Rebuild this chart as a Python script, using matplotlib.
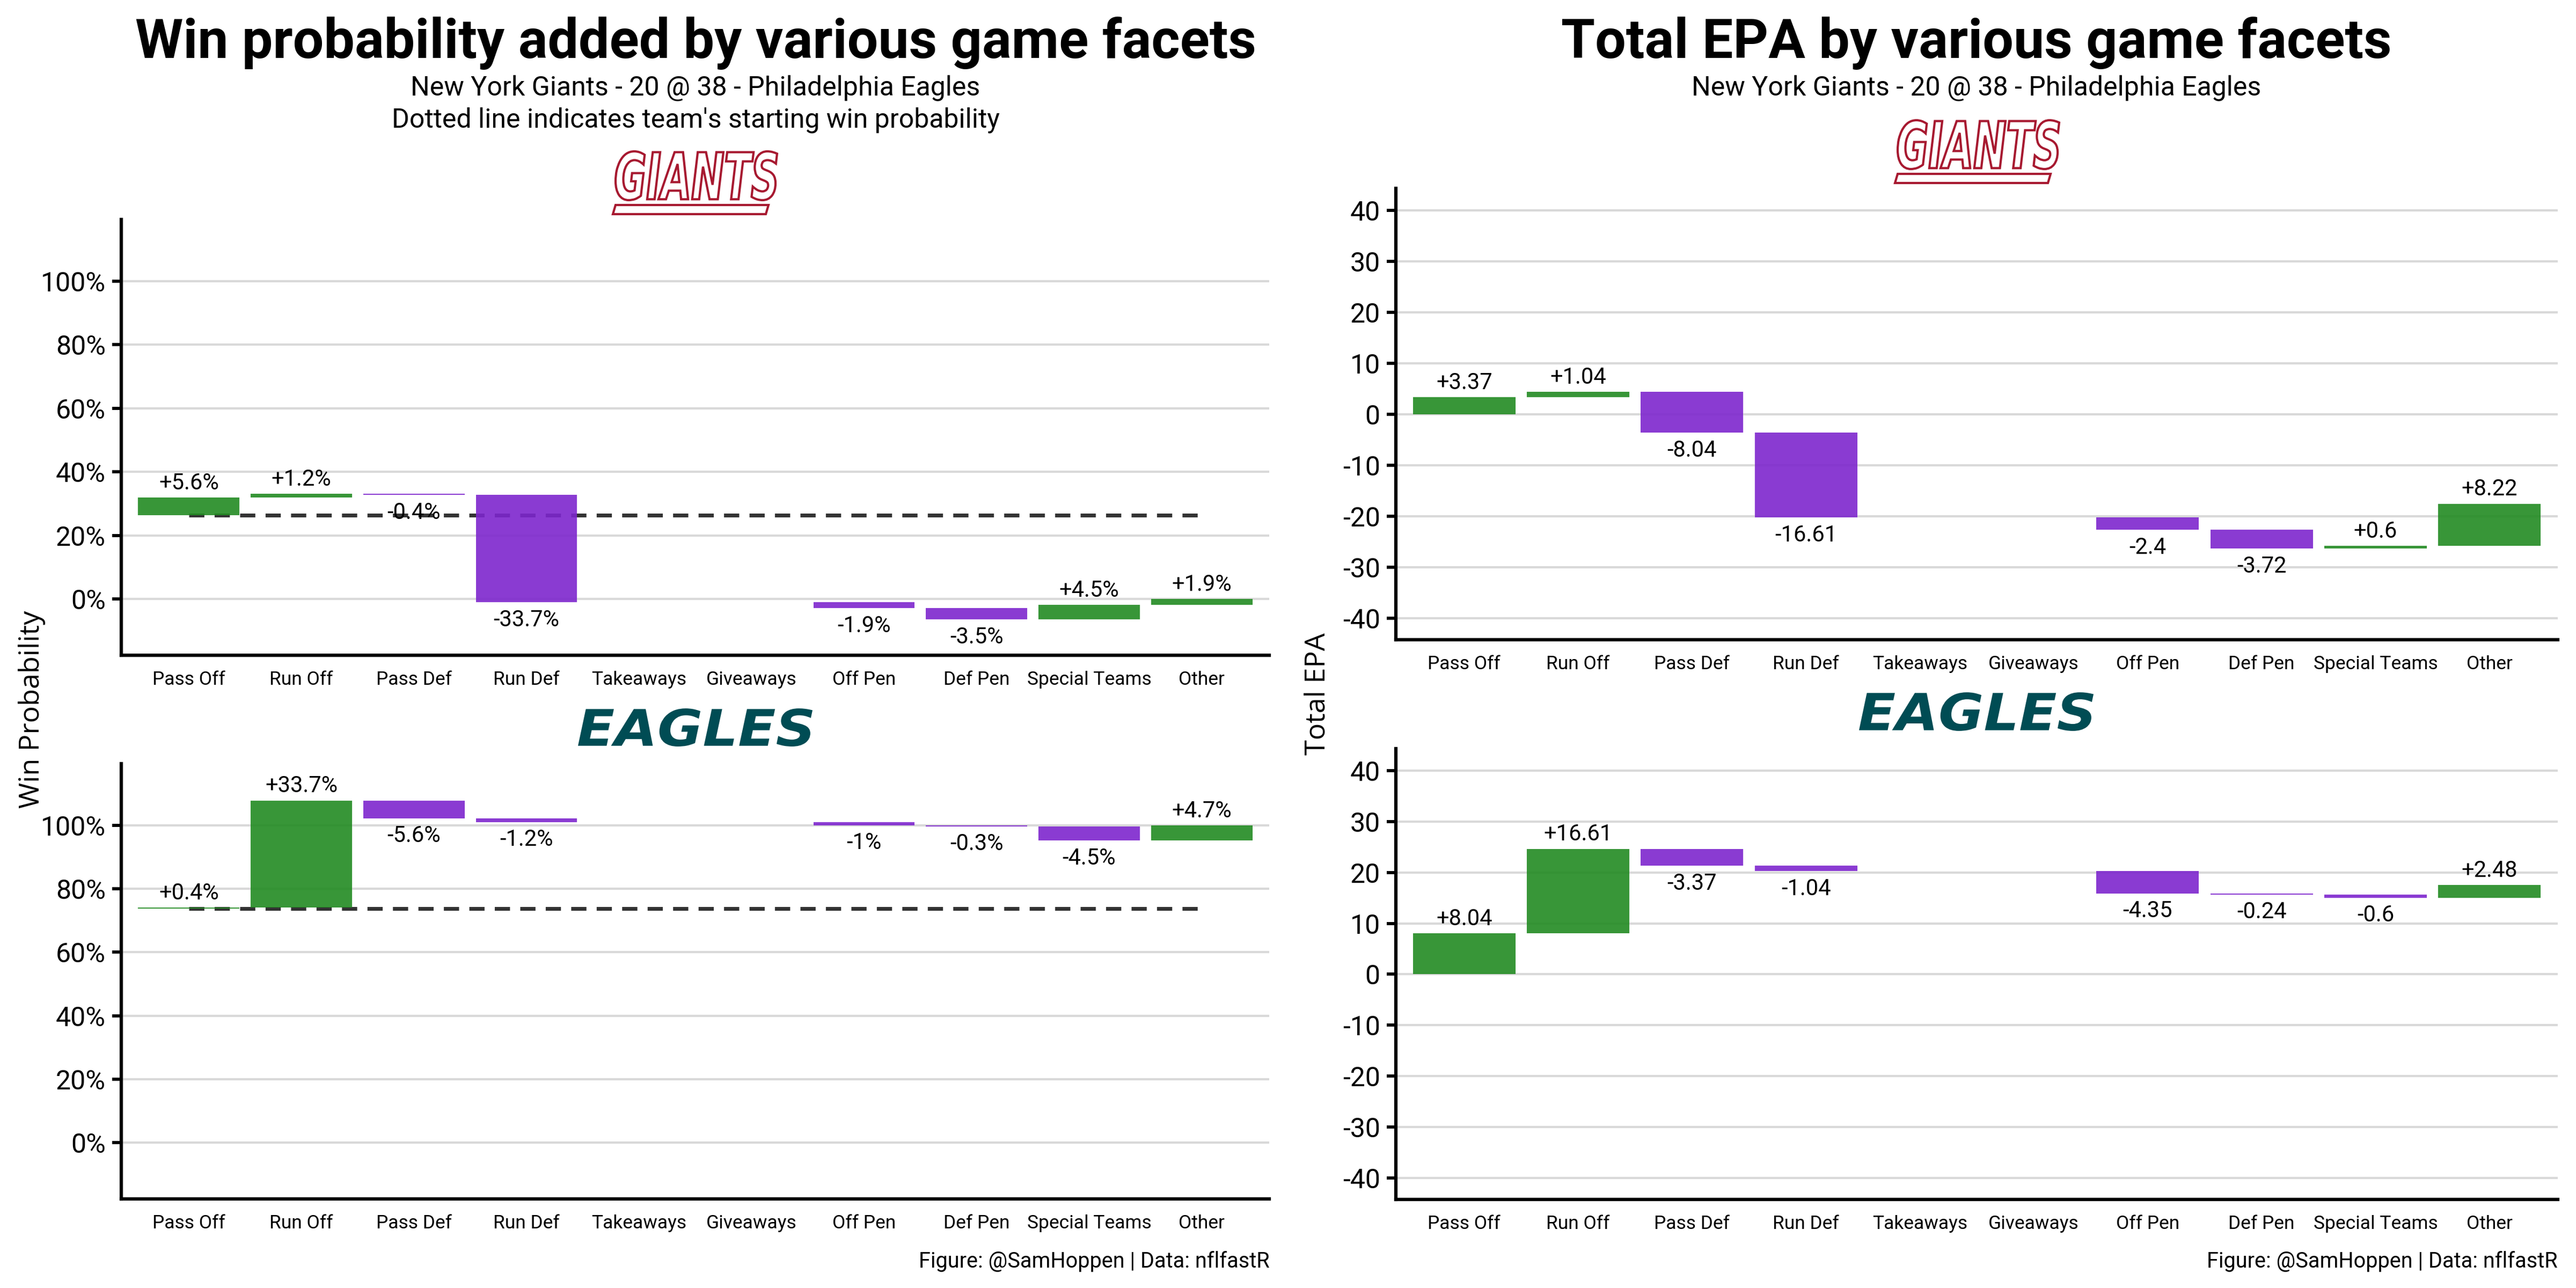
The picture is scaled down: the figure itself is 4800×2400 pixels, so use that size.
import matplotlib
matplotlib.use('Agg')
import matplotlib.pyplot as plt
import numpy as np
from matplotlib.textpath import TextPath
from matplotlib.font_manager import FontProperties
from matplotlib.patches import PathPatch, Polygon
from matplotlib.transforms import Affine2D

# data
facets = ['Pass Off', 'Run Off', 'Pass Def', 'Run Def', 'Takeaways', 'Giveaways',
          'Off Pen', 'Def Pen', 'Special Teams', 'Other']
nyg_wpa = [5.6, 1.2, -0.4, -33.7, 0, 0, -1.9, -3.5, 4.5, 1.9]
phi_wpa = [0.4, 33.7, -5.6, -1.2, 0, 0, -1.0, -0.3, -4.5, 4.7]
nyg_start_wp = 26.3
phi_start_wp = 73.7
nyg_epa = [3.37, 1.04, -8.04, -16.61, 0, 0, -2.4, -3.72, 0.6, 8.22]
phi_epa = [8.04, 16.61, -3.37, -1.04, 0, 0, -4.35, -0.24, -0.6, 2.48]
wp_ticks = [0, 20, 40, 60, 80, 100]
epa_ticks = [-40, -30, -20, -10, 0, 10, 20, 30, 40]

subtitle = 'New York Giants - 20 @ 38 - Philadelphia Eagles'
caption = 'Figure: @SamHoppen | Data: nflfastR'

GREEN = '#228B22'
PURPLE = '#7D26CD'
FONT = 'Roboto'

W, H = 4800, 2400
fig = plt.figure(figsize=(16, 8), dpi=300)


def fx(x):
    return x / W


def fy(y):
    return 1 - y / H


def fmt_wp(v):
    return ('+' if v > 0 else '') + f'{round(v, 1):g}%'


def fmt_epa(v):
    return ('+' if v > 0 else '') + f'{round(v, 2):g}'


def waterfall(ax, vals, start, ylim, ticks, fmt, tickfmt, dashed):
    vals = np.array(vals, dtype=float)
    x = np.arange(len(vals))
    ends = start + np.cumsum(vals)
    bottoms = ends - vals
    mask = vals != 0
    if dashed:
        ax.plot([0, len(vals) - 1], [start, start], ls=(0, (4, 2.7)), color='#333333',
                lw=1.7, zorder=2)
    cols = [GREEN if v > 0 else PURPLE for v in vals[mask]]
    ax.bar(x[mask], vals[mask], bottom=bottoms[mask], width=0.9, color=cols, alpha=0.9, zorder=3)
    for i in x[mask]:
        v = vals[i]
        if v > 0:
            ax.annotate(fmt(v), (i, ends[i]), xytext=(0, 1.5), textcoords='offset points',
                        ha='center', va='bottom', fontsize=10, family=FONT)
        else:
            ax.annotate(fmt(v), (i, ends[i]), xytext=(0, -3), textcoords='offset points',
                        ha='center', va='top', fontsize=10, family=FONT)
    ax.set_xlim(-0.6, len(vals) - 0.4)
    ax.set_ylim(*ylim)
    ax.set_yticks(ticks)
    ax.set_yticklabels([tickfmt(t) for t in ticks], family=FONT, fontsize=12)
    ax.set_xticks(x)
    ax.set_xticklabels(facets, family=FONT, fontsize=8.5)
    ax.tick_params(axis='x', length=0, pad=7)
    ax.tick_params(axis='y', length=4, width=1.4, pad=3)
    ax.grid(axis='y', color='#d9d9d9', lw=1.0, zorder=0)
    ax.set_axisbelow(True)
    for s in ['top', 'right']:
        ax.spines[s].set_visible(False)
    for s in ['left', 'bottom']:
        ax.spines[s].set_linewidth(1.5)


def add_axes(l, t, r, b):
    return fig.add_axes([fx(l), fy(b), fx(r) - fx(l), (b - t) / H])


ax1 = add_axes(226, 409, 2365, 1221)
ax2 = add_axes(226, 1423, 2365, 2234)
ax3 = add_axes(2601, 351, 4766, 1192)
ax4 = add_axes(2601, 1395, 4766, 2235)

wp_lim = (-17.7, 119.4)
epa_lim = (-44.2, 44.3)
pct = lambda t: f'{t}%'
num = lambda t: f'{t}'
waterfall(ax1, nyg_wpa, nyg_start_wp, wp_lim, wp_ticks, fmt_wp, pct, True)
waterfall(ax2, phi_wpa, phi_start_wp, wp_lim, wp_ticks, fmt_wp, pct, True)
waterfall(ax3, nyg_epa, 0, epa_lim, epa_ticks, fmt_epa, num, False)
waterfall(ax4, phi_epa, 0, epa_lim, epa_ticks, fmt_epa, num, False)

# titles
fig.text(fx(1296), fy(108), 'Win probability added by various game facets', ha='center',
         va='baseline', fontsize=24.5, fontweight='bold', family=FONT)
fig.text(fx(1296), fy(178), subtitle, ha='center', va='baseline', fontsize=12, family=FONT)
fig.text(fx(1296), fy(237), "Dotted line indicates team's starting win probability",
         ha='center', va='baseline', fontsize=12, family=FONT)
fig.text(fx(3683), fy(108), 'Total EPA by various game facets', ha='center',
         va='baseline', fontsize=24.5, fontweight='bold', family=FONT)
fig.text(fx(3683), fy(178), subtitle, ha='center', va='baseline', fontsize=12, family=FONT)

# y labels
fig.text(fx(60), fy(1322), 'Win Probability', rotation=90, ha='center', va='center',
         fontsize=12.5, family='Open Sans')
fig.text(fx(2455), fy(1293), 'Total EPA', rotation=90, ha='center', va='center',
         fontsize=12.5, family='Open Sans')

# captions
fig.text(fx(2366), fy(2362), caption, ha='right', va='baseline', fontsize=9.5, family=FONT)
fig.text(fx(4766), fy(2362), caption, ha='right', va='baseline', fontsize=9.5, family=FONT)


# team wordmarks drawn as text paths
def wordmark(text, l, t, r, b, face, edge, lw):
    tp = TextPath((0, 0), text, size=100,
                  prop=FontProperties(family='DejaVu Sans', weight='bold', style='italic'))
    ext = tp.get_extents()
    tr = (Affine2D().translate(-ext.x0, -ext.y0)
          .scale((r - l) / W / ext.width, (b - t) / H / ext.height)
          .translate(fx(l), fy(b)))
    fig.add_artist(PathPatch(tr.transform_path(tp), transform=fig.transFigure,
                             facecolor=face, edgecolor=edge, lw=lw))


def giants(l, t, r, b):
    wordmark('GIANTS', l, t, r, b - 26, 'white', '#A71930', 1.0)
    bar = [(fx(l - 5), fy(b)), (fx(l), fy(b - 17)), (fx(r - 16), fy(b - 17)), (fx(r - 21), fy(b))]
    fig.add_artist(Polygon(bar, closed=True, transform=fig.transFigure, facecolor='white',
                           edgecolor='#A71930', lw=1.0))


giants(1147, 282, 1448, 399)
giants(3536, 224, 3837, 341)
wordmark('EAGLES', 1077, 1320, 1514, 1391, '#004C54', 'none', 0)
wordmark('EAGLES', 3464, 1290, 3901, 1362, '#004C54', 'none', 0)

fig.savefig('out.png', dpi=300, facecolor='white')
